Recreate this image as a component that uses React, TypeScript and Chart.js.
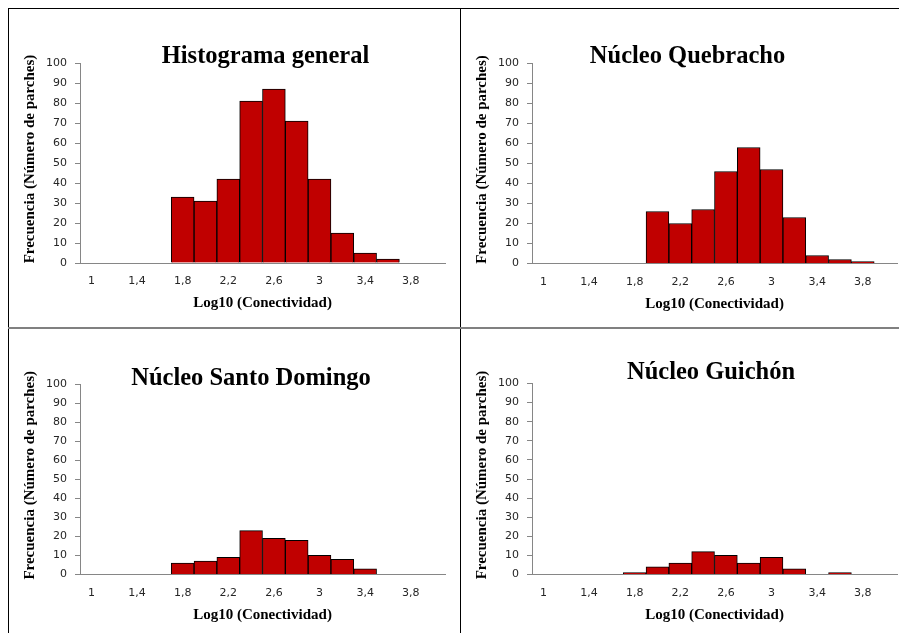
import React, { useEffect, useRef } from 'react';
import { Chart, registerables } from 'chart.js';

Chart.register(...registerables);

// Bin labels (Log10 of connectivity); only every other one is shown on the axis
const binLabels = ['1', '1,2', '1,4', '1,6', '1,8', '2', '2,2', '2,4', '2,6', '2,8', '3', '3,2', '3,4', '3,6', '3,8', '4'];

// Frequencies (number of patches) per bin
const generalValues = [0, 0, 0, 0, 33, 31, 42, 81, 87, 71, 42, 15, 5, 2, 0, 0];
const quebrachoValues = [0, 0, 0, 0, 0, 26, 20, 27, 46, 58, 47, 23, 4, 2, 1, 0];
const santoDomingoValues = [0, 0, 0, 0, 6, 7, 9, 23, 19, 18, 10, 8, 3, 0, 0, 0];
const guichonValues = [0, 0, 0, 0, 1, 4, 6, 12, 10, 6, 9, 3, 0, 1, 0, 0];

const panelTitles = ['Histograma general', 'Núcleo Quebracho', 'Núcleo Santo Domingo', 'Núcleo Guichón'];
const xAxisTitle = 'Log10 (Conectividad)';
const yAxisTitle = 'Frecuencia (Número de parches)';
const yMin = 0;
const yMax = 100;
const yStep = 10;

type Box = { left: number; top: number; width: number; height: number };
type Plot = { left: number; top: number; right: number; bottom: number };
type PanelCfg = { title: string; values: number[]; box: Box; plot: Plot; titleX: number; titleY: number };

const panels: PanelCfg[] = [
  {
    title: panelTitles[0], values: generalValues,
    box: { left: 8, top: 8, width: 452, height: 320 },
    plot: { left: 80, top: 63, right: 445, bottom: 263 },
    titleX: 265.5, titleY: 63,
  },
  {
    title: panelTitles[1], values: quebrachoValues,
    box: { left: 461, top: 8, width: 438, height: 320 },
    plot: { left: 532, top: 63.5, right: 897, bottom: 263.5 },
    titleX: 687.5, titleY: 63,
  },
  {
    title: panelTitles[2], values: santoDomingoValues,
    box: { left: 8, top: 329, width: 452, height: 304 },
    plot: { left: 80, top: 384, right: 445, bottom: 574.5 },
    titleX: 251, titleY: 385,
  },
  {
    title: panelTitles[3], values: guichonValues,
    box: { left: 461, top: 329, width: 438, height: 304 },
    plot: { left: 532, top: 383.5, right: 897, bottom: 574.5 },
    titleX: 711, titleY: 379,
  },
];

const tickFont = { family: '"DejaVu Sans", Verdana, sans-serif', size: 11 };
const serifBold = '"Liberation Serif", "Times New Roman", serif';

function Panel({ cfg }: { cfg: PanelCfg }) {
  const ref = useRef<HTMLCanvasElement>(null);

  useEffect(() => {
    const { box, plot } = cfg;
    const textPlugin = {
      id: 'panelText',
      afterDraw(chart: any) {
        const ctx = chart.ctx as CanvasRenderingContext2D;
        const ca = chart.chartArea;
        ctx.save();
        ctx.fillStyle = '#000';
        ctx.textAlign = 'center';
        ctx.textBaseline = 'alphabetic';
        ctx.font = `bold 24.5px ${serifBold}`;
        ctx.fillText(cfg.title, cfg.titleX - box.left, cfg.titleY - box.top);
        ctx.font = `bold 15px ${serifBold}`;
        ctx.fillText(xAxisTitle, (ca.left + ca.right) / 2, ca.bottom + 44);
        ctx.translate(ca.left - 50, (ca.top + ca.bottom) / 2 - 4);
        ctx.rotate(-Math.PI / 2);
        ctx.textBaseline = 'middle';
        ctx.fillText(yAxisTitle, 0, 0);
        ctx.restore();
      },
    };

    const chart = new Chart(ref.current as HTMLCanvasElement, {
      type: 'bar',
      data: {
        labels: binLabels,
        datasets: [
          {
            data: cfg.values,
            backgroundColor: '#C00000',
            borderColor: '#000000',
            borderWidth: 1,
            barPercentage: 1,
            categoryPercentage: 1,
          },
        ],
      },
      options: {
        animation: false,
        responsive: false,
        maintainAspectRatio: false,
        devicePixelRatio: 1,
        layout: {
          padding: {
            left: 0,
            top: plot.top - box.top,
            right: box.left + box.width - plot.right,
            bottom: 0,
          },
        },
        plugins: {
          legend: { display: false },
          tooltip: { enabled: false },
          title: { display: false },
        },
        scales: {
          x: {
            grid: { drawOnChartArea: false, drawTicks: false, color: '#868686' },
            border: { color: '#868686', width: 1 },
            ticks: {
              autoSkip: false,
              maxRotation: 0,
              minRotation: 0,
              padding: 12,
              color: '#262626',
              font: tickFont,
              callback: (_v: any, i: number) => (i % 2 === 0 ? binLabels[i] : ''),
            },
            afterFit: (s: any) => {
              s.height = box.top + box.height - plot.bottom;
            },
          },
          y: {
            min: yMin,
            max: yMax,
            ticks: { stepSize: yStep, padding: 8, color: '#262626', font: tickFont },
            grid: { drawOnChartArea: false, drawTicks: true, tickLength: 5, color: '#868686' },
            border: { color: '#868686', width: 1 },
            afterFit: (s: any) => {
              s.width = plot.left - box.left;
            },
          },
        },
      },
      plugins: [textPlugin],
    } as any);

    return () => chart.destroy();
  }, [cfg]);

  return (
    <canvas
      ref={ref}
      width={cfg.box.width}
      height={cfg.box.height}
      style={{
        position: 'absolute',
        left: cfg.box.left,
        top: cfg.box.top,
        width: cfg.box.width,
        height: cfg.box.height,
      }}
    />
  );
}

export default function App() {
  return (
    <div
      style={{
        position: 'fixed',
        left: 0,
        top: 0,
        width: 899,
        height: 633,
        overflow: 'hidden',
        background: '#ffffff',
      }}
    >
      {panels.map((p) => (
        <Panel key={p.title} cfg={p} />
      ))}
      <div style={{ position: 'absolute', left: 8, top: 8, width: 891, height: 1, background: '#000' }} />
      <div style={{ position: 'absolute', left: 8, top: 8, width: 1, height: 625, background: '#000' }} />
      <div style={{ position: 'absolute', left: 460, top: 8, width: 1, height: 625, background: '#000' }} />
      <div style={{ position: 'absolute', left: 8, top: 327, width: 891, height: 2, background: '#808080' }} />
    </div>
  );
}
